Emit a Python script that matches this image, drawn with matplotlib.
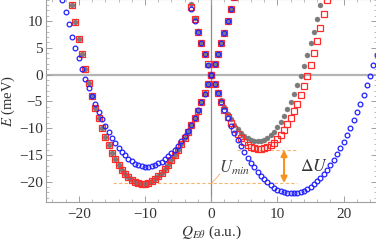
import matplotlib
matplotlib.use("Agg")
import matplotlib.pyplot as plt
from matplotlib.ticker import MultipleLocator

plt.rcParams['font.family'] = ['Liberation Serif', 'DejaVu Serif']
plt.rcParams['mathtext.fontset'] = 'stix'

# left well (red squares, gray dots share the same values)
red_left_x = [-21, -20.5, -20, -19.5, -19, -18.5, -18, -17.5, -17, -16.5,
              -16, -15.5, -15, -14.5, -14, -13.5, -13, -12.5, -12, -11.5,
              -11, -10.5, -10, -9.5, -9, -8.5, -8, -7.5, -7, -6.5,
              -6, -5.5, -5, -4.5, -4, -3.5, -3, -2.5, -2, -1.5,
              -1, -0.5, 0, 0.5, 1, 1.5, 2, 2.5, 3, 3.5]
red_left_E = [13.0, 9.8, 6.7, 3.8, 1.0, -1.6, -4.0, -6.2, -8.2, -10.0,
              -11.7, -13.2, -14.6, -15.8, -16.9, -17.8, -18.6, -19.2, -19.7, -20.05,
              -20.25, -20.35, -20.35, -20.2, -19.9, -19.5, -18.95, -18.35, -17.6, -16.8,
              -15.95, -15.0, -14.0, -12.95, -11.85, -10.7, -9.5, -8.2, -6.75, -5.2,
              -3.5, -1.78, 0.0, 1.9, 3.85, 5.8, 7.8, 10.0, 12.2, 14.5]
gray_left_E = red_left_E

blue_left_x = [-22.5, -22, -21.5] + red_left_x
blue_left_E = [13.9, 11.6, 9.4, 7.1, 5.0, 3.0, 1.1, -0.75, -2.5, -4.05,
               -5.5, -7.0, -8.3, -9.6, -10.75, -11.85, -12.8, -13.65, -14.4, -15.1,
               -15.7, -16.2, -16.65, -16.95, -17.15, -17.25, -17.2, -17.1, -16.9, -16.6,
               -16.25, -15.8, -15.3, -14.7, -14.05, -13.3, -12.45, -11.5, -10.45, -9.35,
               -8.1, -6.7, -5.2, -3.55, -1.8, 0.0, 1.9, 3.8, 5.8, 7.8,
               10.0, 12.2, 14.5]

# right wells
gray_right_x = [-3, -2.5, -2, -1.5, -1, -0.5, 0, 0.5, 1, 1.5,
                2, 2.5, 3, 3.5, 4, 4.5, 5, 5.5, 6, 6.5,
                7, 7.5, 8, 8.5, 9, 9.5, 10, 10.5, 11, 11.5,
                12, 12.5, 13, 13.5, 14, 14.5, 15, 15.5, 16, 16.5]
gray_right_E = [13.2, 10.6, 8.2, 5.95, 3.85, 1.85, 0.0, -1.72, -3.31, -4.77,
                -6.1, -7.31, -8.39, -9.34, -10.16, -10.86, -11.43, -11.88, -12.2, -12.39,
                -12.45, -12.38, -12.15, -11.8, -11.3, -10.65, -9.8, -8.85, -7.7, -6.5,
                -5.1, -3.55, -1.95, -0.25, 1.65, 3.6, 5.8, 8.0, 10.45, 12.95]

red_right_x = gray_right_x + [17, 17.5]
red_right_E = [12.7, 10.3, 8.0, 5.9, 3.9, 1.9, 0.0, -1.8, -3.5, -5.15,
               -6.6, -7.9, -9.1, -10.15, -11.1, -11.9, -12.55, -13.1, -13.5, -13.8,
               -13.95, -13.95, -13.8, -13.55, -13.2, -12.7, -12.05, -11.3, -10.4, -9.3,
               -8.1, -6.8, -5.45, -3.9, -2.15, -0.25, 1.85, 3.95, 6.25, 8.75,
               11.25, 14.0]

blue_right_x = red_right_x + [18, 18.5, 19, 19.5, 20, 20.5, 21, 21.5, 22, 22.5,
                              23, 23.5, 24, 24.5, 25]
blue_right_E = [12.2, 10.0, 7.85, 5.8, 3.75, 1.85, 0.0, -1.8, -3.5, -5.15,
                -6.7, -8.2, -9.6, -10.9, -12.2, -13.35, -14.5, -15.5, -16.45, -17.35,
                -18.15, -18.9, -19.55, -20.15, -20.65, -21.1, -21.5, -21.8, -22.0, -22.15,
                -22.2, -22.2, -22.1, -21.95, -21.7, -21.35, -20.95, -20.5, -19.9, -19.3,
                -18.55, -17.75, -16.9, -15.9, -14.9, -13.8, -12.6, -11.3, -10.0, -8.55,
                -7.05, -5.45, -3.75, -2.0, -0.2, 1.7, 3.7]

u_min = -20.25
u_right = -14.05

fig = plt.figure(figsize=(3.76, 2.45), dpi=100)
ax = fig.add_axes([0.1215, 0.1755, 0.8805, 0.8285])

ax.axhline(0, color='#b4b4b4', lw=1.6, zorder=1)
ax.axvline(0, color='#8c8c8c', lw=0.9, zorder=1)

gray_kw = dict(ls='none', marker='o', ms=3.6, mfc='#7a7a7a', mec='#7a7a7a', mew=0.3)
red_kw = dict(ls='none', marker='s', ms=4.3, mfc='none', mec='#ff2a2a', mew=0.9)
blue_kw = dict(ls='none', marker='o', ms=3.4, mfc='none', mec='#2020ff', mew=0.9)

ax.plot(red_left_x, gray_left_E, zorder=3, **gray_kw)
ax.plot(gray_right_x, gray_right_E, zorder=3, **gray_kw)
ax.plot(red_left_x, red_left_E, zorder=4, **red_kw)
ax.plot(red_right_x, red_right_E, zorder=4, **red_kw)
ax.plot(blue_left_x, blue_left_E, zorder=5, **blue_kw)
ax.plot(blue_right_x, blue_right_E, zorder=5, **blue_kw)

# annotations
light = '#f6b570'
ax.plot([-14.8, 13], [u_min, u_min], ls=(0, (3, 2)), color=light, lw=0.8, zorder=2)
ax.plot([3.9, 13], [u_right, u_right], ls=(0, (3, 2)), color=light, lw=0.8, zorder=2)
ax.annotate('', xy=(11, u_min), xytext=(11, u_right),
            arrowprops=dict(arrowstyle='<|-|>', color='#f7921e', lw=1.5,
                            mutation_scale=9, shrinkA=0, shrinkB=0), zorder=6)
ax.text(13.4, -17.3, r'$\Delta U$', fontsize=12.5, color='#333333', va='center')
ax.plot([0.1, 1.3], [u_min, -18.6], color=light, lw=0.7, zorder=2)
ax.text(1.2, -17.5, r'$U_{min}$', fontsize=12, color='#444444', va='center')

ax.set_xlim(-25, 25)
ax.set_ylim(-23.8, 14.1)
ax.xaxis.set_major_locator(MultipleLocator(10))
ax.xaxis.set_minor_locator(MultipleLocator(2))
ax.yaxis.set_major_locator(MultipleLocator(5))
ax.yaxis.set_minor_locator(MultipleLocator(1))
for s in ax.spines.values():
    s.set_color('#a0a0a0')
    s.set_linewidth(0.8)
ax.tick_params(which='both', direction='in', top=True, right=True,
               colors='#a0a0a0', labelcolor='#333333', labelsize=11)
ax.tick_params(which='major', length=4, width=0.7)
ax.tick_params(which='minor', length=2.2, width=0.5)
ax.tick_params(axis='y', pad=2)
ax.tick_params(axis='x', pad=4)

ax.set_xlabel(r'$Q_{E\theta}$ (a.u.)', fontsize=11, color='#333333')
ax.set_ylabel(r'$E$ (meV)', fontsize=10.5, color='#333333')
ax.xaxis.set_label_coords(0.5, -0.105)
ax.yaxis.set_label_coords(-0.088, 0.5)

fig.savefig('out.png', dpi=100)
